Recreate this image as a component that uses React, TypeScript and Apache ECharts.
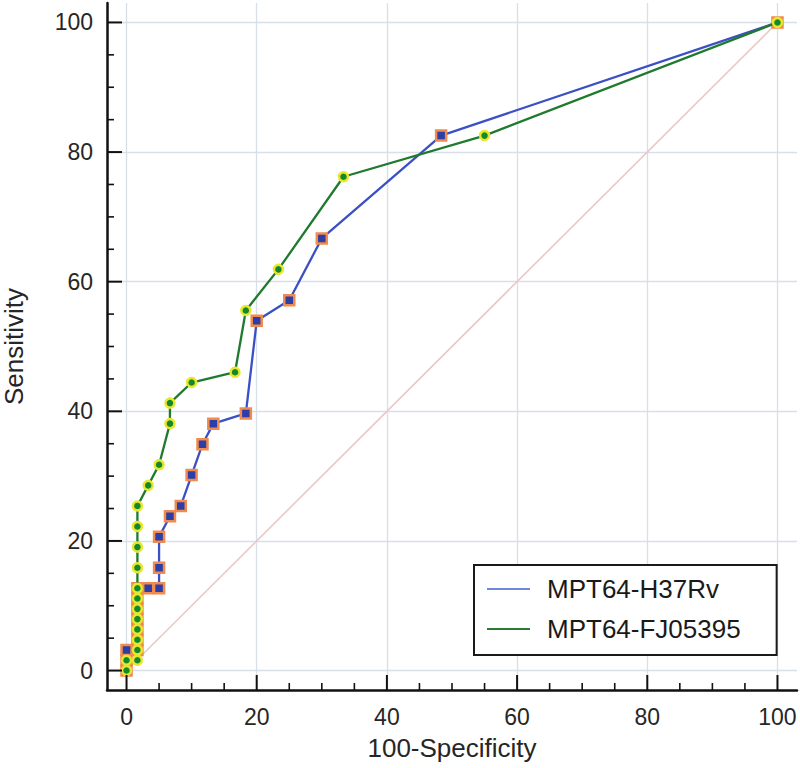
import React, { useEffect, useRef } from "react";
import * as echarts from "echarts";

// 100-Specificity (x) and Sensitivity (y) for each ROC curve
const h37rvX = [0, 0, 0, 1.67, 1.67, 1.67, 1.67, 1.67, 1.67, 1.67, 3.33, 5.0, 5.0, 5.0, 6.67, 8.33, 10.0, 11.67, 13.33, 18.33, 20.0, 25.0, 30.0, 48.33, 100];
const h37rvY = [0, 1.59, 3.17, 3.17, 4.76, 6.35, 7.94, 9.52, 11.11, 12.7, 12.7, 12.7, 15.87, 20.63, 23.81, 25.4, 30.16, 34.92, 38.1, 39.68, 53.97, 57.14, 66.67, 82.54, 100];

const fjX = [0, 0, 1.67, 1.67, 1.67, 1.67, 1.67, 1.67, 1.67, 1.67, 1.67, 1.67, 1.67, 1.67, 3.33, 5.0, 6.67, 6.67, 10.0, 16.67, 18.33, 23.33, 33.33, 55.0, 100];
const fjY = [0, 1.59, 1.59, 3.17, 4.76, 6.35, 7.94, 9.52, 11.11, 12.7, 15.87, 19.05, 22.22, 25.4, 28.57, 31.75, 38.1, 41.27, 44.44, 46.03, 55.56, 61.9, 76.19, 82.54, 100];

const diagX = [0, 100];
const diagY = [0, 100];

const majorTicks = [0, 20, 40, 60, 80, 100];
const minorTicks = [5, 10, 15, 25, 30, 35, 45, 50, 55, 65, 70, 75, 85, 90, 95];

const seriesNames = ["MPT64-H37Rv", "MPT64-FJ05395"];

const FONT = "'Liberation Sans', Arial, Helvetica, sans-serif";

export default function App() {
  const ref = useRef<HTMLDivElement>(null);

  useEffect(() => {
    if (!ref.current) return;
    const chart = echarts.init(ref.current, undefined, { renderer: "svg" });

    const pairs = (xs: number[], ys: number[]) => xs.map((x, i) => [x, ys[i]]);

    const axisCommon = {
      type: "value",
      min: -3,
      max: 103,
      splitNumber: 5,
      axisLine: { show: true, onZero: false, lineStyle: { color: "#111", width: 2.5 } },
      axisTick: { show: false },
      axisLabel: {
        show: true,
        customValues: majorTicks,
        fontSize: 23,
        color: "#262626",
        fontFamily: FONT,
      },
      splitLine: {
        show: true,
        showMinLine: false,
        showMaxLine: false,
        lineStyle: { color: "#d9dfe9", width: 1.3 },
      },
      nameLocation: "middle",
      nameTextStyle: { fontSize: 26, color: "#262626", fontFamily: FONT },
    };

    chart.setOption({
      animation: false,
      textStyle: { fontFamily: FONT },
      grid: {
        left: 107,
        top: 3,
        width: 690,
        height: 687,
        containLabel: false,
        outerBoundsMode: "none",
      },
      xAxis: {
        ...axisCommon,
        position: "bottom",
        name: "100-Specificity",
        nameGap: 45,
        axisLabel: { ...axisCommon.axisLabel, margin: 15 },
      },
      yAxis: {
        ...axisCommon,
        position: "left",
        name: "Sensitivity",
        nameGap: 80,
        axisLabel: { ...axisCommon.axisLabel, margin: 14 },
      },
      legend: {
        orient: "vertical",
        left: 474,
        top: 565,
        padding: [11, 36, 13, 13],
        itemGap: 14,
        itemWidth: 55,
        itemHeight: 2,
        borderColor: "#1a1a1a",
        borderWidth: 2,
        backgroundColor: "#fff",
        selectedMode: false,
        textStyle: { fontSize: 26, color: "#1a1a1a", fontFamily: FONT, lineHeight: 26 },
        data: [
          {
            name: seriesNames[0],
            icon: "path://M0,0H43V2H0Z M55,1",
            itemStyle: { color: "#6f88d8", borderWidth: 0 },
          },
          {
            name: seriesNames[1],
            icon: "path://M0,0H43V2H0Z M55,1",
            itemStyle: { color: "#2a7a38", borderWidth: 0 },
          },
        ],
      },
      series: [
        {
          type: "line",
          name: "diagonal",
          data: pairs(diagX, diagY),
          symbol: "none",
          silent: true,
          lineStyle: { color: "#ebc8c8", width: 1.6 },
          z: 1,
        },
        {
          type: "line",
          name: seriesNames[0],
          data: pairs(h37rvX, h37rvY),
          symbol: "rect",
          symbolSize: 10,
          showAllSymbol: true,
          clip: false,
          lineStyle: { color: "#3a50c4", width: 2.3 },
          itemStyle: { color: "#2d3fa6", borderColor: "#f08a4e", borderWidth: 2.5 },
          emphasis: { disabled: true },
          z: 3,
        },
        {
          type: "line",
          name: seriesNames[1],
          data: pairs(fjX, fjY),
          symbol: "circle",
          symbolSize: 9,
          showAllSymbol: true,
          clip: false,
          lineStyle: { color: "#1f7a2e", width: 2.3 },
          itemStyle: { color: "#12892a", borderColor: "#e8e62e", borderWidth: 2.5 },
          emphasis: { disabled: true },
          z: 4,
        },
      ],
    });

    // Axis ticks (inside), placed through the chart's own axis scales
    const ox = chart.convertToPixel({ xAxisIndex: 0 }, -3) as number;
    const oy = chart.convertToPixel({ yAxisIndex: 0 }, -3) as number;
    const elements: any[] = [];
    const addTicks = (vals: number[], len: number, width: number) => {
      vals.forEach((v) => {
        const px = chart.convertToPixel({ xAxisIndex: 0 }, v) as number;
        const py = chart.convertToPixel({ yAxisIndex: 0 }, v) as number;
        elements.push({
          type: "line",
          silent: true,
          z: 10,
          shape: { x1: px, y1: oy, x2: px, y2: oy - len },
          style: { stroke: "#111", lineWidth: width },
        });
        elements.push({
          type: "line",
          silent: true,
          z: 10,
          shape: { x1: ox, y1: py, x2: ox + len, y2: py },
          style: { stroke: "#111", lineWidth: width },
        });
      });
    };
    addTicks(majorTicks, 15, 2);
    addTicks(minorTicks, 7, 1.6);
    chart.setOption({ graphic: { elements } });

    return () => chart.dispose();
  }, []);

  return (
    <div
      ref={ref}
      style={{ position: "fixed", left: 0, top: 0, width: 800, height: 768, background: "#fff" }}
    />
  );
}
